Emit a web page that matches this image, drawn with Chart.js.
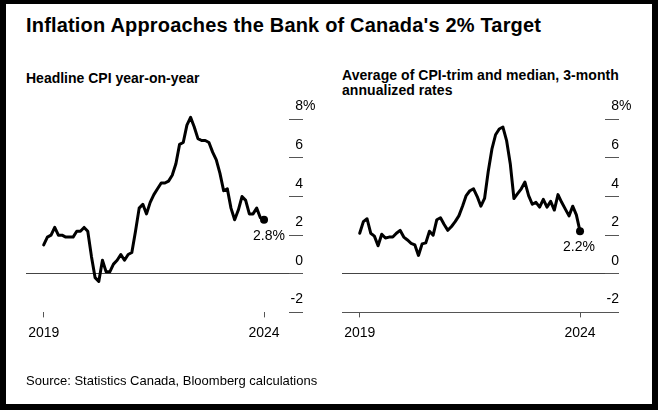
<!DOCTYPE html>
<html>
<head>
<meta charset="utf-8">
<title>Inflation Approaches the Bank of Canada's 2% Target</title>
<script src="https://cdn.jsdelivr.net/npm/chart.js@4.4.1/dist/chart.umd.min.js"></script>
<style>
  html, body { margin: 0; padding: 0; background: #000; }
  body { width: 658px; height: 410px; position: relative; overflow: hidden;
         font-family: "Liberation Sans", Arial, sans-serif; color: #000; }
  #frame { position: absolute; left: 6px; top: 4px; width: 646px; height: 400px; background: #fff; }
  .txt { position: absolute; white-space: nowrap; }
  #title { left: 26px; top: 15.4px; font-size: 20px; line-height: 20px; font-weight: bold; letter-spacing: 0.18px; }
  .sub { font-size: 14px; line-height: 15px; font-weight: bold; }
  #subLeft { left: 26px; top: 70.6px; }
  #subRight { left: 342px; top: 67.9px; letter-spacing: 0.05px; }
  #source { left: 26px; top: 373.2px; font-size: 13px; line-height: 15px; }
  canvas { position: absolute; top: 0; }
  #cpiLeft { left: 0; }
  #cpiRight { left: 330px; }
</style>
</head>
<body>
<div id="frame"></div>
<div class="txt" id="title">Inflation Approaches the Bank of Canada's 2% Target</div>
<div class="txt sub" id="subLeft">Headline CPI year-on-year</div>
<div class="txt sub" id="subRight">Average of CPI-trim and median, 3-month<br>annualized rates</div>
<canvas id="cpiLeft" width="330" height="410"></canvas>
<canvas id="cpiRight" width="328" height="410"></canvas>
<div class="txt" id="source">Source: Statistics Canada, Bloomberg calculations</div>

<script>
// monthly observations, Feb 2019 - Feb 2024
const months = [
  '2019-02', '2019-03', '2019-04', '2019-05', '2019-06', '2019-07', '2019-08', '2019-09', '2019-10', '2019-11', '2019-12',
  '2020-01', '2020-02', '2020-03', '2020-04', '2020-05', '2020-06', '2020-07', '2020-08', '2020-09', '2020-10', '2020-11', '2020-12',
  '2021-01', '2021-02', '2021-03', '2021-04', '2021-05', '2021-06', '2021-07', '2021-08', '2021-09', '2021-10', '2021-11', '2021-12',
  '2022-01', '2022-02', '2022-03', '2022-04', '2022-05', '2022-06', '2022-07', '2022-08', '2022-09', '2022-10', '2022-11', '2022-12',
  '2023-01', '2023-02', '2023-03', '2023-04', '2023-05', '2023-06', '2023-07', '2023-08', '2023-09', '2023-10', '2023-11', '2023-12',
  '2024-01', '2024-02'
];

// headline CPI, % year-on-year
const headlineCpi = [
  1.5, 1.9, 2.0, 2.4, 2.0, 2.0, 1.9, 1.9, 1.9, 2.2, 2.2,
  2.4, 2.2, 0.9, -0.2, -0.4, 0.7, 0.1, 0.1, 0.5, 0.7, 1.0, 0.7,
  1.0, 1.1, 2.2, 3.4, 3.6, 3.1, 3.7, 4.1, 4.4, 4.7, 4.7, 4.8,
  5.1, 5.7, 6.7, 6.8, 7.7, 8.1, 7.6, 7.0, 6.9, 6.9, 6.8, 6.3,
  5.9, 5.2, 4.3, 4.4, 3.4, 2.8, 3.3, 4.0, 3.8, 3.1, 3.1, 3.4,
  2.9, 2.8
];

// average of CPI-trim and CPI-median, 3-month annualized
const trimMedian = [
  2.1, 2.7, 2.85, 2.1, 1.95, 1.45, 2.05, 1.85, 1.9, 1.9, 2.1,
  2.25, 1.9, 1.75, 1.58, 1.5, 0.95, 1.55, 1.6, 2.2, 2.0, 2.8, 2.9,
  2.55, 2.25, 2.45, 2.7, 3.0, 3.5, 4.05, 4.3, 4.4, 4.0, 3.5, 3.9,
  5.3, 6.45, 7.2, 7.5, 7.6, 6.9, 5.7, 3.9, 4.15, 4.4, 4.75, 4.05,
  3.6, 3.7, 3.45, 3.85, 3.45, 3.75, 3.3, 4.1, 3.7, 3.35, 3.0, 3.5,
  3.05, 2.2
];

const xTickMonths = ['2019-02', '2024-02'];
const xTickLabels = ['2019', '2024'];
const yTickValues = [-2, 0, 2, 4, 6, 8];

const FONT = '"Liberation Sans", Arial, sans-serif';

// y tick labels sit above the short tick marks, and the last value gets a label under its dot
const panelLabels = {
  id: 'panelLabels',
  afterDraw(chart, args, opts) {
    const { ctx, chartArea, scales: { y } } = chart;
    const xr = chartArea.right + 14;
    ctx.save();
    ctx.font = '14px ' + FONT;
    ctx.fillStyle = '#000';
    ctx.textBaseline = 'alphabetic';
    y.ticks.forEach(t => {
      const py = y.getPixelForValue(t.value);
      ctx.textAlign = 'right';
      ctx.fillText(String(t.value), xr, py - 9);
      if (t.value === yTickValues[yTickValues.length - 1]) {
        ctx.textAlign = 'left';
        ctx.fillText('%', xr, py - 9);
      }
    });
    const meta = chart.getDatasetMeta(0);
    const last = meta.data[meta.data.length - 1];
    ctx.textAlign = 'center';
    ctx.fillText(opts.endLabel, last.x + opts.dx, last.y + 20);
    ctx.restore();
  }
};

function makePanel(id, values, endLabel, dx, pad, showBase) {
  return new Chart(document.getElementById(id), {
    type: 'line',
    data: {
      datasets: [{
        data: values.map((v, i) => ({ x: i, y: v })),
        borderColor: '#000',
        borderWidth: 3,
        borderJoinStyle: 'round',
        borderCapStyle: 'round',
        tension: 0,
        clip: false,
        pointRadius: c => (c.dataIndex === values.length - 1 ? 4 : 0),
        pointBackgroundColor: '#000',
        pointBorderWidth: 0
      }]
    },
    options: {
      responsive: false,
      animation: false,
      layout: { padding: pad },
      plugins: {
        legend: { display: false },
        tooltip: { enabled: false },
        panelLabels: { endLabel: endLabel, dx: dx }
      },
      scales: {
        x: {
          type: 'linear',
          min: -4.82,
          max: 66.8,
          afterBuildTicks: s => { s.ticks = xTickMonths.map(m => ({ value: months.indexOf(m) })); },
          ticks: {
            callback: v => xTickLabels[xTickMonths.indexOf(months[v])],
            font: { size: 14, family: FONT },
            color: '#000',
            padding: 7,
            maxRotation: 0,
            autoSkip: false
          },
          grid: { drawOnChartArea: false, drawTicks: true, tickLength: 5, tickColor: '#555' },
          border: { display: showBase, color: '#555', width: 1 }
        },
        y: {
          position: 'right',
          min: -2,
          max: 8,
          afterBuildTicks: s => { s.ticks = yTickValues.map(v => ({ value: v })); },
          ticks: { display: false },
          grid: {
            color: c => (c.tick && c.tick.value === 0 ? '#444' : 'rgba(0,0,0,0)'),
            tickColor: '#555',
            tickLength: 14,
            drawTicks: true
          },
          border: { display: false }
        }
      }
    },
    plugins: [panelLabels]
  });
}

makePanel('cpiLeft', headlineCpi, '2.8%', 5, { left: 26, top: 119.3, right: 27, bottom: 61.8 }, false);
makePanel('cpiRight', trimMedian, '2.2%', -1, { left: 12, top: 119.3, right: 39, bottom: 61.8 }, true);
</script>
</body>
</html>
